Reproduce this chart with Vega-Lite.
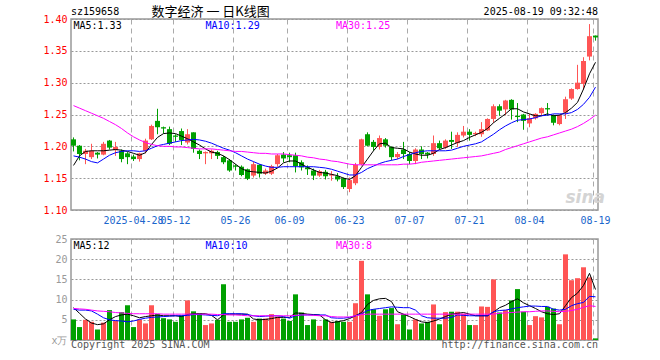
{
  "$schema": "https://vega.github.io/schema/vega-lite/v6.json",
  "background": "white",
  "padding": {"left": 42, "top": 5, "right": 5, "bottom": 5},
  "bounds": "flush",
  "spacing": 29,
  "config": {
    "view": {"stroke": "#999999", "strokeWidth": 1.5},
    "axis": {"labelFont": "DejaVu Sans Mono", "labelFontSize": 10, "ticks": false, "domain": false},
    "text": {"font": "DejaVu Sans Mono", "fontSize": 10},
    "line": {"strokeWidth": 1}
  },
  "datasets": {
    "k": [
      {"d":"2025-04-14","o":1.211,"h":1.214,"l":1.192,"c":1.201,"m5":1.170,"m10":1.185,"m30":1.264,"v":5.1,"v5":8.0,"v10":7.6,"v30":7.8},
      {"d":"2025-04-15","o":1.201,"h":1.202,"l":1.178,"c":1.188,"m5":1.185,"m10":1.183,"m30":1.260,"v":3.2,"v5":6.6,"v10":7.4,"v30":7.7},
      {"d":"2025-04-16","o":1.188,"h":1.196,"l":1.172,"c":1.193,"m5":1.192,"m10":1.180,"m30":1.256,"v":5.0,"v5":5.2,"v10":7.4,"v30":7.6},
      {"d":"2025-04-17","o":1.183,"h":1.204,"l":1.180,"c":1.193,"m5":1.193,"m10":1.176,"m30":1.252,"v":4.5,"v5":4.2,"v10":7.2,"v30":7.4},
      {"d":"2025-04-18","o":1.190,"h":1.191,"l":1.181,"c":1.187,"m5":1.193,"m10":1.174,"m30":1.248,"v":2.6,"v5":3.8,"v10":6.4,"v30":7.2},
      {"d":"2025-04-21","o":1.187,"h":1.207,"l":1.186,"c":1.204,"m5":1.193,"m10":1.180,"m30":1.244,"v":4.3,"v5":4.0,"v10":5.5,"v30":7.1},
      {"d":"2025-04-22","o":1.209,"h":1.210,"l":1.195,"c":1.198,"m5":1.194,"m10":1.186,"m30":1.239,"v":7.4,"v5":5.0,"v10":5.0,"v30":7.0},
      {"d":"2025-04-23","o":1.194,"h":1.207,"l":1.185,"c":1.199,"m5":1.195,"m10":1.190,"m30":1.234,"v":4.7,"v5":5.8,"v10":4.8,"v30":6.8},
      {"d":"2025-04-24","o":1.193,"h":1.195,"l":1.175,"c":1.180,"m5":1.194,"m10":1.192,"m30":1.228,"v":6.9,"v5":6.2,"v10":4.7,"v30":6.7},
      {"d":"2025-04-25","o":1.189,"h":1.191,"l":1.172,"c":1.183,"m5":1.192,"m10":1.193,"m30":1.221,"v":8.6,"v5":6.4,"v10":4.5,"v30":6.6},
      {"d":"2025-04-28","o":1.184,"h":1.187,"l":1.177,"c":1.180,"m5":1.189,"m10":1.193,"m30":1.215,"v":3.2,"v5":6.0,"v10":4.7,"v30":6.5},
      {"d":"2025-04-29","o":1.180,"h":1.190,"l":1.176,"c":1.189,"m5":1.186,"m10":1.192,"m30":1.210,"v":5.1,"v5":5.5,"v10":5.1,"v30":6.5},
      {"d":"2025-04-30","o":1.193,"h":1.212,"l":1.189,"c":1.209,"m5":1.190,"m10":1.193,"m30":1.206,"v":4.1,"v5":5.8,"v10":5.4,"v30":6.5},
      {"d":"2025-05-06","o":1.211,"h":1.234,"l":1.210,"c":1.232,"m5":1.203,"m10":1.197,"m30":1.203,"v":8.6,"v5":6.0,"v10":5.6,"v30":6.5},
      {"d":"2025-05-07","o":1.240,"h":1.259,"l":1.219,"c":1.230,"m5":1.214,"m10":1.201,"m30":1.201,"v":6.4,"v5":6.2,"v10":5.7,"v30":6.5},
      {"d":"2025-05-08","o":1.230,"h":1.231,"l":1.220,"c":1.228,"m5":1.220,"m10":1.203,"m30":1.200,"v":5.4,"v5":6.0,"v10":5.8,"v30":6.4},
      {"d":"2025-05-09","o":1.227,"h":1.231,"l":1.202,"c":1.204,"m5":1.221,"m10":1.205,"m30":1.200,"v":5.1,"v5":6.0,"v10":5.9,"v30":6.4},
      {"d":"2025-05-12","o":1.217,"h":1.219,"l":1.207,"c":1.215,"m5":1.220,"m10":1.207,"m30":1.199,"v":4.5,"v5":6.0,"v10":6.0,"v30":6.4},
      {"d":"2025-05-13","o":1.224,"h":1.228,"l":1.202,"c":1.210,"m5":1.216,"m10":1.209,"m30":1.199,"v":6.1,"v5":5.8,"v10":6.0,"v30":6.4},
      {"d":"2025-05-14","o":1.206,"h":1.227,"l":1.203,"c":1.219,"m5":1.212,"m10":1.210,"m30":1.198,"v":9.8,"v5":6.3,"v10":6.1,"v30":6.4},
      {"d":"2025-05-15","o":1.222,"h":1.222,"l":1.190,"c":1.196,"m5":1.207,"m10":1.211,"m30":1.197,"v":7.1,"v5":6.5,"v10":6.3,"v30":6.4},
      {"d":"2025-05-16","o":1.193,"h":1.195,"l":1.180,"c":1.188,"m5":1.202,"m10":1.210,"m30":1.196,"v":6.6,"v5":6.5,"v10":6.3,"v30":6.4},
      {"d":"2025-05-19","o":1.189,"h":1.192,"l":1.172,"c":1.191,"m5":1.196,"m10":1.208,"m30":1.196,"v":3.7,"v5":6.5,"v10":6.2,"v30":6.4},
      {"d":"2025-05-20","o":1.189,"h":1.195,"l":1.180,"c":1.193,"m5":1.191,"m10":1.205,"m30":1.196,"v":4.1,"v5":6.1,"v10":6.1,"v30":6.4},
      {"d":"2025-05-21","o":1.191,"h":1.193,"l":1.180,"c":1.185,"m5":1.189,"m10":1.201,"m30":1.195,"v":5.0,"v5":5.0,"v10":6.0,"v30":6.3},
      {"d":"2025-05-22","o":1.183,"h":1.185,"l":1.172,"c":1.175,"m5":1.185,"m10":1.197,"m30":1.194,"v":13.8,"v5":6.2,"v10":6.5,"v30":6.3},
      {"d":"2025-05-23","o":1.178,"h":1.180,"l":1.160,"c":1.162,"m5":1.179,"m10":1.194,"m30":1.193,"v":4.5,"v5":6.4,"v10":6.5,"v30":6.2},
      {"d":"2025-05-26","o":1.170,"h":1.172,"l":1.162,"c":1.168,"m5":1.172,"m10":1.190,"m30":1.192,"v":4.5,"v5":6.4,"v10":6.5,"v30":6.2},
      {"d":"2025-05-27","o":1.168,"h":1.170,"l":1.153,"c":1.155,"m5":1.165,"m10":1.185,"m30":1.192,"v":5.1,"v5":6.4,"v10":6.5,"v30":6.1},
      {"d":"2025-05-28","o":1.164,"h":1.165,"l":1.147,"c":1.149,"m5":1.161,"m10":1.180,"m30":1.191,"v":5.5,"v5":6.4,"v10":6.3,"v30":6.0},
      {"d":"2025-05-29","o":1.154,"h":1.176,"l":1.151,"c":1.172,"m5":1.160,"m10":1.176,"m30":1.190,"v":4.5,"v5":5.2,"v10":6.0,"v30":6.0},
      {"d":"2025-05-30","o":1.171,"h":1.172,"l":1.151,"c":1.157,"m5":1.159,"m10":1.172,"m30":1.189,"v":5.3,"v5":5.0,"v10":5.8,"v30":6.0},
      {"d":"2025-06-03","o":1.157,"h":1.165,"l":1.155,"c":1.162,"m5":1.158,"m10":1.169,"m30":1.189,"v":5.3,"v5":5.1,"v10":5.9,"v30":6.0},
      {"d":"2025-06-04","o":1.157,"h":1.171,"l":1.155,"c":1.169,"m5":1.161,"m10":1.167,"m30":1.188,"v":6.4,"v5":5.3,"v10":6.0,"v30":6.0},
      {"d":"2025-06-05","o":1.172,"h":1.188,"l":1.168,"c":1.186,"m5":1.166,"m10":1.167,"m30":1.188,"v":5.8,"v5":5.6,"v10":6.0,"v30":6.0},
      {"d":"2025-06-06","o":1.187,"h":1.191,"l":1.175,"c":1.181,"m5":1.174,"m10":1.168,"m30":1.188,"v":5.3,"v5":5.6,"v10":5.8,"v30":6.0},
      {"d":"2025-06-09","o":1.186,"h":1.190,"l":1.175,"c":1.183,"m5":1.177,"m10":1.168,"m30":1.187,"v":4.7,"v5":5.6,"v10":5.4,"v30":6.0},
      {"d":"2025-06-10","o":1.186,"h":1.190,"l":1.159,"c":1.169,"m5":1.177,"m10":1.168,"m30":1.186,"v":11.3,"v5":6.7,"v10":6.0,"v30":6.1},
      {"d":"2025-06-11","o":1.175,"h":1.178,"l":1.162,"c":1.167,"m5":1.172,"m10":1.168,"m30":1.185,"v":6.8,"v5":6.6,"v10":6.2,"v30":6.2},
      {"d":"2025-06-12","o":1.167,"h":1.170,"l":1.155,"c":1.164,"m5":1.167,"m10":1.168,"m30":1.183,"v":3.7,"v5":6.4,"v10":6.2,"v30":6.2},
      {"d":"2025-06-13","o":1.162,"h":1.165,"l":1.147,"c":1.154,"m5":1.163,"m10":1.168,"m30":1.182,"v":5.1,"v5":6.3,"v10":6.2,"v30":6.1},
      {"d":"2025-06-16","o":1.154,"h":1.163,"l":1.152,"c":1.161,"m5":1.159,"m10":1.167,"m30":1.180,"v":3.5,"v5":6.2,"v10":6.2,"v30":6.0},
      {"d":"2025-06-17","o":1.160,"h":1.163,"l":1.148,"c":1.153,"m5":1.158,"m10":1.166,"m30":1.179,"v":5.1,"v5":5.0,"v10":6.2,"v30":6.0},
      {"d":"2025-06-18","o":1.154,"h":1.161,"l":1.146,"c":1.156,"m5":1.156,"m10":1.164,"m30":1.177,"v":4.5,"v5":4.3,"v10":5.5,"v30":5.8},
      {"d":"2025-06-19","o":1.153,"h":1.158,"l":1.145,"c":1.148,"m5":1.154,"m10":1.161,"m30":1.176,"v":4.7,"v5":4.5,"v10":5.4,"v30":5.7},
      {"d":"2025-06-20","o":1.150,"h":1.151,"l":1.133,"c":1.136,"m5":1.150,"m10":1.158,"m30":1.174,"v":4.5,"v5":4.8,"v10":5.4,"v30":5.7},
      {"d":"2025-06-23","o":1.133,"h":1.151,"l":1.128,"c":1.147,"m5":1.148,"m10":1.155,"m30":1.172,"v":4.5,"v5":5.3,"v10":5.6,"v30":5.7},
      {"d":"2025-06-24","o":1.142,"h":1.174,"l":1.139,"c":1.171,"m5":1.154,"m10":1.155,"m30":1.171,"v":9.1,"v5":6.0,"v10":6.0,"v30":6.0},
      {"d":"2025-06-25","o":1.172,"h":1.212,"l":1.170,"c":1.211,"m5":1.167,"m10":1.159,"m30":1.171,"v":19.6,"v5":6.8,"v10":6.5,"v30":6.3},
      {"d":"2025-06-26","o":1.219,"h":1.222,"l":1.200,"c":1.201,"m5":1.180,"m10":1.165,"m30":1.171,"v":11.3,"v5":8.8,"v10":7.3,"v30":6.4},
      {"d":"2025-06-27","o":1.207,"h":1.210,"l":1.193,"c":1.199,"m5":1.193,"m10":1.169,"m30":1.171,"v":7.6,"v5":9.8,"v10":7.6,"v30":6.4},
      {"d":"2025-06-30","o":1.199,"h":1.217,"l":1.195,"c":1.213,"m5":1.204,"m10":1.173,"m30":1.171,"v":6.0,"v5":10.2,"v10":7.8,"v30":6.4},
      {"d":"2025-07-01","o":1.211,"h":1.213,"l":1.198,"c":1.201,"m5":1.205,"m10":1.176,"m30":1.171,"v":7.6,"v5":10.3,"v10":8.0,"v30":6.4},
      {"d":"2025-07-02","o":1.199,"h":1.200,"l":1.178,"c":1.183,"m5":1.198,"m10":1.178,"m30":1.171,"v":7.9,"v5":9.5,"v10":8.2,"v30":6.4},
      {"d":"2025-07-03","o":1.183,"h":1.191,"l":1.180,"c":1.188,"m5":1.197,"m10":1.180,"m30":1.171,"v":3.9,"v5":7.0,"v10":8.1,"v30":6.4},
      {"d":"2025-07-04","o":1.195,"h":1.207,"l":1.180,"c":1.188,"m5":1.196,"m10":1.184,"m30":1.172,"v":6.4,"v5":6.4,"v10":8.0,"v30":6.4},
      {"d":"2025-07-07","o":1.188,"h":1.191,"l":1.172,"c":1.177,"m5":1.191,"m10":1.187,"m30":1.172,"v":2.6,"v5":5.8,"v10":8.0,"v30":6.4},
      {"d":"2025-07-08","o":1.177,"h":1.197,"l":1.172,"c":1.195,"m5":1.188,"m10":1.190,"m30":1.173,"v":5.1,"v5":5.1,"v10":7.4,"v30":6.4},
      {"d":"2025-07-09","o":1.195,"h":1.200,"l":1.180,"c":1.188,"m5":1.186,"m10":1.192,"m30":1.175,"v":4.1,"v5":4.5,"v10":6.0,"v30":6.4},
      {"d":"2025-07-10","o":1.190,"h":1.191,"l":1.181,"c":1.187,"m5":1.186,"m10":1.193,"m30":1.176,"v":4.5,"v5":4.3,"v10":5.5,"v30":6.4},
      {"d":"2025-07-11","o":1.188,"h":1.217,"l":1.185,"c":1.205,"m5":1.189,"m10":1.193,"m30":1.177,"v":8.8,"v5":4.7,"v10":5.4,"v30":6.4},
      {"d":"2025-07-14","o":1.205,"h":1.209,"l":1.195,"c":1.197,"m5":1.195,"m10":1.193,"m30":1.178,"v":3.9,"v5":5.2,"v10":5.4,"v30":6.4},
      {"d":"2025-07-15","o":1.198,"h":1.211,"l":1.196,"c":1.209,"m5":1.198,"m10":1.193,"m30":1.179,"v":6.9,"v5":5.8,"v10":5.4,"v30":6.4},
      {"d":"2025-07-16","o":1.210,"h":1.223,"l":1.196,"c":1.207,"m5":1.202,"m10":1.194,"m30":1.180,"v":7.0,"v5":6.4,"v10":5.6,"v30":6.4},
      {"d":"2025-07-17","o":1.205,"h":1.222,"l":1.199,"c":1.218,"m5":1.206,"m10":1.197,"m30":1.181,"v":7.0,"v5":6.6,"v10":6.2,"v30":6.4},
      {"d":"2025-07-18","o":1.217,"h":1.232,"l":1.214,"c":1.223,"m5":1.209,"m10":1.200,"m30":1.182,"v":6.5,"v5":6.8,"v10":6.1,"v30":6.4},
      {"d":"2025-07-21","o":1.223,"h":1.227,"l":1.209,"c":1.218,"m5":1.214,"m10":1.202,"m30":1.183,"v":3.7,"v5":6.4,"v10":6.0,"v30":6.4},
      {"d":"2025-07-22","o":1.219,"h":1.223,"l":1.216,"c":1.221,"m5":1.218,"m10":1.204,"m30":1.184,"v":3.7,"v5":6.0,"v10":6.0,"v30":6.4},
      {"d":"2025-07-23","o":1.219,"h":1.238,"l":1.215,"c":1.227,"m5":1.222,"m10":1.207,"m30":1.185,"v":8.3,"v5":6.0,"v10":6.0,"v30":6.4},
      {"d":"2025-07-24","o":1.225,"h":1.244,"l":1.224,"c":1.243,"m5":1.228,"m10":1.213,"m30":1.187,"v":8.2,"v5":6.0,"v10":6.0,"v30":6.4},
      {"d":"2025-07-25","o":1.243,"h":1.266,"l":1.237,"c":1.263,"m5":1.237,"m10":1.219,"m30":1.189,"v":15.0,"v5":6.9,"v10":7.0,"v30":6.4},
      {"d":"2025-07-28","o":1.263,"h":1.266,"l":1.248,"c":1.256,"m5":1.244,"m10":1.226,"m30":1.191,"v":6.8,"v5":8.0,"v10":7.3,"v30":6.6},
      {"d":"2025-07-29","o":1.258,"h":1.273,"l":1.249,"c":1.272,"m5":1.251,"m10":1.232,"m30":1.195,"v":7.4,"v5":8.6,"v10":7.4,"v30":6.7},
      {"d":"2025-07-30","o":1.273,"h":1.274,"l":1.242,"c":1.258,"m5":1.259,"m10":1.237,"m30":1.198,"v":9.8,"v5":9.5,"v10":7.7,"v30":6.8},
      {"d":"2025-07-31","o":1.248,"h":1.268,"l":1.238,"c":1.246,"m5":1.259,"m10":1.241,"m30":1.201,"v":12.6,"v5":10.2,"v10":8.0,"v30":6.9},
      {"d":"2025-08-01","o":1.250,"h":1.251,"l":1.226,"c":1.240,"m5":1.254,"m10":1.242,"m30":1.204,"v":7.0,"v5":9.2,"v10":8.2,"v30":7.0},
      {"d":"2025-08-04","o":1.236,"h":1.251,"l":1.230,"c":1.244,"m5":1.251,"m10":1.243,"m30":1.207,"v":3.7,"v5":8.5,"v10":8.4,"v30":7.0},
      {"d":"2025-08-05","o":1.244,"h":1.252,"l":1.242,"c":1.251,"m5":1.248,"m10":1.245,"m30":1.210,"v":5.9,"v5":7.8,"v10":8.4,"v30":7.1},
      {"d":"2025-08-06","o":1.252,"h":1.261,"l":1.248,"c":1.260,"m5":1.248,"m10":1.248,"m30":1.213,"v":5.6,"v5":7.0,"v10":8.3,"v30":7.2},
      {"d":"2025-08-07","o":1.260,"h":1.268,"l":1.248,"c":1.258,"m5":1.251,"m10":1.249,"m30":1.215,"v":8.2,"v5":6.5,"v10":8.3,"v30":7.2},
      {"d":"2025-08-08","o":1.249,"h":1.250,"l":1.233,"c":1.237,"m5":1.248,"m10":1.251,"m30":1.218,"v":7.8,"v5":6.3,"v10":7.6,"v30":7.1},
      {"d":"2025-08-11","o":1.235,"h":1.250,"l":1.233,"c":1.249,"m5":1.249,"m10":1.251,"m30":1.221,"v":3.9,"v5":6.5,"v10":7.4,"v30":7.0},
      {"d":"2025-08-12","o":1.253,"h":1.278,"l":1.243,"c":1.274,"m5":1.253,"m10":1.251,"m30":1.224,"v":21.2,"v5":8.5,"v10":7.6,"v30":7.1},
      {"d":"2025-08-13","o":1.275,"h":1.291,"l":1.273,"c":1.290,"m5":1.260,"m10":1.253,"m30":1.227,"v":14.8,"v5":10.5,"v10":8.5,"v30":7.3},
      {"d":"2025-08-14","o":1.290,"h":1.328,"l":1.289,"c":1.300,"m5":1.269,"m10":1.258,"m30":1.231,"v":15.3,"v5":11.6,"v10":9.0,"v30":7.6},
      {"d":"2025-08-15","o":1.298,"h":1.340,"l":1.289,"c":1.334,"m5":1.290,"m10":1.266,"m30":1.236,"v":18.0,"v5":13.5,"v10":9.3,"v30":8.1},
      {"d":"2025-08-18","o":1.341,"h":1.392,"l":1.335,"c":1.373,"m5":1.314,"m10":1.277,"m30":1.242,"v":15.5,"v5":16.5,"v10":10.8,"v30":8.5},
      {"d":"2025-08-19","o":1.374,"h":1.374,"l":1.366,"c":1.371,"m5":1.332,"m10":1.293,"m30":1.249,"v":0.4,"v5":12.5,"v10":10.7,"v30":8.3}
    ]
  },
  "vconcat": [
    {
      "width": 527,
      "height": 191,
      "data": {"name": "k"},
      "encoding": {
        "x": {
          "field": "d", "type": "ordinal", "title": null,
          "scale": {"paddingInner": 0.16667, "paddingOuter": 0},
          "axis": {
            "values": ["2025-04-28","2025-05-12","2025-05-26","2025-06-09","2025-06-23","2025-07-07","2025-07-21","2025-08-04","2025-08-19"],
            "labelExpr": "datum.value == '2025-04-28' ? datum.value : substring(datum.value, 5, 10)",
            "labelAngle": 0, "labelOverlap": false, "labelBound": false, "labelFlush": false,
            "labelColor": "#1a66cc", "labelPadding": 5, "bandPosition": 0,
            "grid": true, "gridDash": [5, 4], "gridColor": "#aaaaaa"
          }
        }
      },
      "layer": [
        {
          "mark": {"type": "rule", "strokeWidth": 1},
          "encoding": {
            "y": {"field": "l", "type": "quantitative", "title": null,
              "scale": {"domain": [1.10, 1.40], "zero": false, "nice": false},
              "axis": {"values": [1.10, 1.15, 1.20, 1.25, 1.30, 1.35, 1.40], "format": ".2f", "labelColor": "#ff0000", "labelPadding": 4, "labelOverlap": false, "labelBound": false, "grid": true, "gridDash": [2, 2], "gridColor": "#999999"}},
            "y2": {"field": "h"},
            "color": {"condition": {"test": "datum.c >= datum.o", "value": "#ff5555"}, "value": "#00a000"}
          }
        },
        {
          "mark": {"type": "bar"},
          "encoding": {
            "y": {"field": "o", "type": "quantitative", "title": null, "axis": {"values": [1.10, 1.15, 1.20, 1.25, 1.30, 1.35, 1.40], "format": ".2f", "labelColor": "#ff0000", "labelPadding": 4, "labelOverlap": false, "labelBound": false, "grid": true, "gridDash": [2, 2], "gridColor": "#999999"}},
            "y2": {"field": "c"},
            "color": {"condition": {"test": "datum.c >= datum.o", "value": "#ff5555"}, "value": "#00a000"}
          }
        },
        {"mark": {"type": "line", "color": "#000000", "strokeWidth": 1}, "encoding": {"y": {"field": "m5", "type": "quantitative", "title": null, "axis": {"values": [1.10, 1.15, 1.20, 1.25, 1.30, 1.35, 1.40], "format": ".2f", "labelColor": "#ff0000", "labelPadding": 4, "labelOverlap": false, "labelBound": false, "grid": true, "gridDash": [2, 2], "gridColor": "#999999"}}}},
        {"mark": {"type": "line", "color": "#0000ff", "strokeWidth": 1}, "encoding": {"y": {"field": "m10", "type": "quantitative", "title": null, "axis": {"values": [1.10, 1.15, 1.20, 1.25, 1.30, 1.35, 1.40], "format": ".2f", "labelColor": "#ff0000", "labelPadding": 4, "labelOverlap": false, "labelBound": false, "grid": true, "gridDash": [2, 2], "gridColor": "#999999"}}}},
        {"mark": {"type": "line", "color": "#ff00ff", "strokeWidth": 1}, "encoding": {"y": {"field": "m30", "type": "quantitative", "title": null, "axis": {"values": [1.10, 1.15, 1.20, 1.25, 1.30, 1.35, 1.40], "format": ".2f", "labelColor": "#ff0000", "labelPadding": 4, "labelOverlap": false, "labelBound": false, "grid": true, "gridDash": [2, 2], "gridColor": "#999999"}}}},
        {
          "data": {"values": [{}]},
          "mark": {"type": "text", "align": "left", "baseline": "alphabetic", "dx": -2.5, "color": "#000000"},
          "encoding": {"x": {"datum": "2025-04-14", "type": "ordinal"}, "y": {"datum": 1.4055, "type": "quantitative", "title": null, "axis": {"values": [1.10, 1.15, 1.20, 1.25, 1.30, 1.35, 1.40], "format": ".2f", "labelColor": "#ff0000", "labelPadding": 4, "labelOverlap": false, "labelBound": false, "grid": true, "gridDash": [2, 2], "gridColor": "#999999"}}, "text": {"value": "sz159658"}}
        },
        {
          "data": {"values": [{}]},
          "mark": {"type": "text", "align": "left", "baseline": "alphabetic", "font": "Noto Sans CJK SC", "fontSize": 13, "color": "#000000"},
          "encoding": {"x": {"datum": "2025-05-06", "type": "ordinal"}, "y": {"datum": 1.4045, "type": "quantitative", "title": null, "axis": {"values": [1.10, 1.15, 1.20, 1.25, 1.30, 1.35, 1.40], "format": ".2f", "labelColor": "#ff0000", "labelPadding": 4, "labelOverlap": false, "labelBound": false, "grid": true, "gridDash": [2, 2], "gridColor": "#999999"}}, "text": {"value": "数字经济 一 日K线图"}}
        },
        {
          "data": {"values": [{}]},
          "mark": {"type": "text", "align": "right", "baseline": "alphabetic", "dx": 2.5, "color": "#000000"},
          "encoding": {"x": {"datum": "2025-08-19", "type": "ordinal"}, "y": {"datum": 1.4055, "type": "quantitative", "title": null, "axis": {"values": [1.10, 1.15, 1.20, 1.25, 1.30, 1.35, 1.40], "format": ".2f", "labelColor": "#ff0000", "labelPadding": 4, "labelOverlap": false, "labelBound": false, "grid": true, "gridDash": [2, 2], "gridColor": "#999999"}}, "text": {"value": "2025-08-19 09:32:48"}}
        },
        {
          "data": {"values": [{}]},
          "mark": {"type": "text", "align": "left", "baseline": "alphabetic", "color": "#000000"},
          "encoding": {"x": {"datum": "2025-04-14", "type": "ordinal"}, "y": {"datum": 1.385, "type": "quantitative", "title": null, "axis": {"values": [1.10, 1.15, 1.20, 1.25, 1.30, 1.35, 1.40], "format": ".2f", "labelColor": "#ff0000", "labelPadding": 4, "labelOverlap": false, "labelBound": false, "grid": true, "gridDash": [2, 2], "gridColor": "#999999"}}, "text": {"value": "MA5:1.33"}}
        },
        {
          "data": {"values": [{}]},
          "mark": {"type": "text", "align": "left", "baseline": "alphabetic", "color": "#0000ff"},
          "encoding": {"x": {"datum": "2025-05-19", "type": "ordinal"}, "y": {"datum": 1.385, "type": "quantitative", "title": null, "axis": {"values": [1.10, 1.15, 1.20, 1.25, 1.30, 1.35, 1.40], "format": ".2f", "labelColor": "#ff0000", "labelPadding": 4, "labelOverlap": false, "labelBound": false, "grid": true, "gridDash": [2, 2], "gridColor": "#999999"}}, "text": {"value": "MA10:1.29"}}
        },
        {
          "data": {"values": [{}]},
          "mark": {"type": "text", "align": "left", "baseline": "alphabetic", "dx": -1.5, "color": "#ff00ff"},
          "encoding": {"x": {"datum": "2025-06-19", "type": "ordinal"}, "y": {"datum": 1.385, "type": "quantitative", "title": null, "axis": {"values": [1.10, 1.15, 1.20, 1.25, 1.30, 1.35, 1.40], "format": ".2f", "labelColor": "#ff0000", "labelPadding": 4, "labelOverlap": false, "labelBound": false, "grid": true, "gridDash": [2, 2], "gridColor": "#999999"}}, "text": {"value": "MA30:1.25"}}
        },
        {
          "data": {"values": [{}]},
          "mark": {"type": "text", "align": "left", "baseline": "alphabetic", "font": "DejaVu Sans", "fontSize": 17, "fontWeight": "bold", "fontStyle": "italic", "color": "#d4d4d4"},
          "encoding": {"x": {"datum": "2025-08-12", "type": "ordinal"}, "y": {"datum": 1.111, "type": "quantitative", "title": null, "axis": {"values": [1.10, 1.15, 1.20, 1.25, 1.30, 1.35, 1.40], "format": ".2f", "labelColor": "#ff0000", "labelPadding": 4, "labelOverlap": false, "labelBound": false, "grid": true, "gridDash": [2, 2], "gridColor": "#999999"}}, "text": {"value": "sina"}}
        }
      ]
    },
    {
      "width": 527,
      "height": 101,
      "data": {"name": "k"},
      "encoding": {
        "x": {
          "field": "d", "type": "ordinal", "title": null,
          "scale": {"paddingInner": 0.16667, "paddingOuter": 0},
          "axis": {
            "values": ["2025-04-28","2025-05-12","2025-05-26","2025-06-09","2025-06-23","2025-07-07","2025-07-21","2025-08-04","2025-08-19"],
            "labels": false, "bandPosition": 0,
            "grid": true, "gridDash": [5, 4], "gridColor": "#aaaaaa"
          }
        }
      },
      "layer": [
        {
          "mark": {"type": "bar"},
          "encoding": {
            "y": {"field": "v", "type": "quantitative", "title": null,
              "scale": {"domain": [0, 25], "nice": false},
              "axis": {"values": [0, 5, 10, 15, 20, 25], "labelExpr": "datum.value == 0 ? 'x万' : datum.label", "labelColor": "#999999", "labelPadding": 4, "labelOverlap": false, "labelBound": false, "grid": true, "gridDash": [2, 2], "gridColor": "#999999"}},
            "color": {"condition": {"test": "datum.c >= datum.o", "value": "#ff5555"}, "value": "#00a000"}
          }
        },
        {"mark": {"type": "line", "color": "#000000", "strokeWidth": 1}, "encoding": {"y": {"field": "v5", "type": "quantitative", "title": null, "axis": {"values": [0, 5, 10, 15, 20, 25], "labelExpr": "datum.value == 0 ? 'x万' : datum.label", "labelColor": "#999999", "labelPadding": 4, "labelOverlap": false, "labelBound": false, "grid": true, "gridDash": [2, 2], "gridColor": "#999999"}}}},
        {"mark": {"type": "line", "color": "#0000ff", "strokeWidth": 1}, "encoding": {"y": {"field": "v10", "type": "quantitative", "title": null, "axis": {"values": [0, 5, 10, 15, 20, 25], "labelExpr": "datum.value == 0 ? 'x万' : datum.label", "labelColor": "#999999", "labelPadding": 4, "labelOverlap": false, "labelBound": false, "grid": true, "gridDash": [2, 2], "gridColor": "#999999"}}}},
        {"mark": {"type": "line", "color": "#ff00ff", "strokeWidth": 1}, "encoding": {"y": {"field": "v30", "type": "quantitative", "title": null, "axis": {"values": [0, 5, 10, 15, 20, 25], "labelExpr": "datum.value == 0 ? 'x万' : datum.label", "labelColor": "#999999", "labelPadding": 4, "labelOverlap": false, "labelBound": false, "grid": true, "gridDash": [2, 2], "gridColor": "#999999"}}}},
        {
          "data": {"values": [{}]},
          "mark": {"type": "text", "align": "left", "baseline": "alphabetic", "color": "#000000"},
          "encoding": {"x": {"datum": "2025-04-14", "type": "ordinal"}, "y": {"datum": 22.5, "type": "quantitative", "title": null, "axis": {"values": [0, 5, 10, 15, 20, 25], "labelExpr": "datum.value == 0 ? 'x万' : datum.label", "labelColor": "#999999", "labelPadding": 4, "labelOverlap": false, "labelBound": false, "grid": true, "gridDash": [2, 2], "gridColor": "#999999"}}, "text": {"value": "MA5:12"}}
        },
        {
          "data": {"values": [{}]},
          "mark": {"type": "text", "align": "left", "baseline": "alphabetic", "color": "#0000ff"},
          "encoding": {"x": {"datum": "2025-05-19", "type": "ordinal"}, "y": {"datum": 22.5, "type": "quantitative", "title": null, "axis": {"values": [0, 5, 10, 15, 20, 25], "labelExpr": "datum.value == 0 ? 'x万' : datum.label", "labelColor": "#999999", "labelPadding": 4, "labelOverlap": false, "labelBound": false, "grid": true, "gridDash": [2, 2], "gridColor": "#999999"}}, "text": {"value": "MA10:10"}}
        },
        {
          "data": {"values": [{}]},
          "mark": {"type": "text", "align": "left", "baseline": "alphabetic", "dx": -1.5, "color": "#ff00ff"},
          "encoding": {"x": {"datum": "2025-06-19", "type": "ordinal"}, "y": {"datum": 22.5, "type": "quantitative", "title": null, "axis": {"values": [0, 5, 10, 15, 20, 25], "labelExpr": "datum.value == 0 ? 'x万' : datum.label", "labelColor": "#999999", "labelPadding": 4, "labelOverlap": false, "labelBound": false, "grid": true, "gridDash": [2, 2], "gridColor": "#999999"}}, "text": {"value": "MA30:8"}}
        },
        {
          "data": {"values": [{}]},
          "mark": {"type": "text", "align": "left", "baseline": "alphabetic", "dx": -2.5, "color": "#555555"},
          "encoding": {"x": {"datum": "2025-04-14", "type": "ordinal"}, "y": {"datum": -2.0, "type": "quantitative", "title": null, "axis": {"values": [0, 5, 10, 15, 20, 25], "labelExpr": "datum.value == 0 ? 'x万' : datum.label", "labelColor": "#999999", "labelPadding": 4, "labelOverlap": false, "labelBound": false, "grid": true, "gridDash": [2, 2], "gridColor": "#999999"}}, "text": {"value": "Copyright 2025 SINA.COM"}}
        },
        {
          "data": {"values": [{}]},
          "mark": {"type": "text", "align": "right", "baseline": "alphabetic", "dx": 2.5, "color": "#555555"},
          "encoding": {"x": {"datum": "2025-08-19", "type": "ordinal"}, "y": {"datum": -2.0, "type": "quantitative", "title": null, "axis": {"values": [0, 5, 10, 15, 20, 25], "labelExpr": "datum.value == 0 ? 'x万' : datum.label", "labelColor": "#999999", "labelPadding": 4, "labelOverlap": false, "labelBound": false, "grid": true, "gridDash": [2, 2], "gridColor": "#999999"}}, "text": {"value": "http://finance.sina.com.cn"}}
        }
      ]
    }
  ]
}
